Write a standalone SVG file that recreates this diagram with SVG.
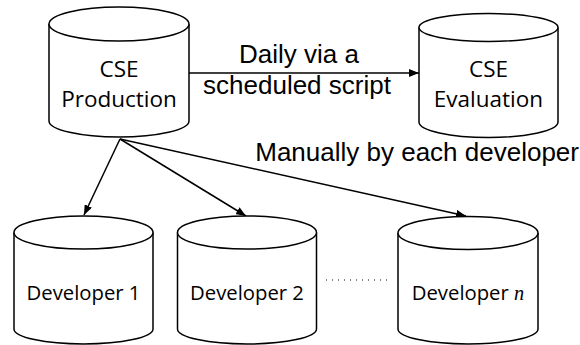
<svg xmlns="http://www.w3.org/2000/svg" width="580" height="345" viewBox="0 0 580 345">
<defs>
<marker id="ah" viewBox="0 0 10 8" refX="10" refY="4" markerWidth="10" markerHeight="8" markerUnits="userSpaceOnUse" orient="auto">
<path d="M0,0 L10,4 L0,8 Z" fill="#000"/>
</marker>
</defs>
<style>
.cyl{fill:#fff;stroke:#000;stroke-width:1.5}
.nt{font-family:"Open Sans","Liberation Sans",sans-serif;font-size:22.5px;fill:#000;text-anchor:middle}
.dt{font-family:"Open Sans","Liberation Sans",sans-serif;font-size:20.3px;fill:#000;text-anchor:middle}
.lb{font-family:"Liberation Sans",Arial,sans-serif;font-size:26px;fill:#000}
.ed{stroke:#000;stroke-width:1.5;fill:none;marker-end:url(#ah)}
</style>
<g id="connectors">
<line class="ed" x1="189" y1="73" x2="419" y2="73"/>
<line class="ed" x1="120" y1="139" x2="84" y2="215"/>
<line class="ed" x1="120" y1="139" x2="246" y2="216"/>
<line class="ed" x1="120" y1="139" x2="466" y2="216"/>
<text class="lb" x="299" y="63" text-anchor="middle">Daily via a</text>
<text class="lb" x="297" y="94" text-anchor="middle">scheduled script</text>
<text class="lb" x="579" y="161" text-anchor="end">Manually by each developer</text>
<line x1="326" y1="280" x2="387" y2="280" stroke="#000" stroke-width="1" stroke-dasharray="1,5"/>
</g>
<g id="cse-production">
<path class="cyl" d="M49,24 L49,121 A70,16 0 0 0 189,121 L189,24"/>
<ellipse class="cyl" cx="119" cy="24" rx="70" ry="17"/>
<text class="nt" x="119" y="77">CSE</text>
<text class="nt" x="119" y="107">Production</text>
</g>
<g id="cse-evaluation">
<path class="cyl" d="M419,27.5 L419,122 A69.5,15.5 0 0 0 558,122 L558,27.5"/>
<ellipse class="cyl" cx="488.5" cy="27.5" rx="69.5" ry="14"/>
<text class="nt" x="488.5" y="77">CSE</text>
<text class="nt" x="488.5" y="107">Evaluation</text>
</g>
<g id="developer-1">
<path class="cyl" d="M14,232.5 L14,329 A69.5,15 0 0 0 153,329 L153,232.5"/>
<ellipse class="cyl" cx="83.5" cy="232.5" rx="69.5" ry="16.5"/>
<text class="dt" x="83.5" y="300">Developer 1</text>
</g>
<g id="developer-2">
<path class="cyl" d="M177.5,232.5 L177.5,329 A69.5,15 0 0 0 316.5,329 L316.5,232.5"/>
<ellipse class="cyl" cx="247" cy="232.5" rx="69.5" ry="16.5"/>
<text class="dt" x="247" y="300">Developer 2</text>
</g>
<g id="developer-n">
<path class="cyl" d="M398,233 L398,329 A70,15 0 0 0 538,329 L538,233"/>
<ellipse class="cyl" cx="468" cy="233" rx="70" ry="16.5"/>
<text class="dt" x="468" y="300">Developer <tspan font-family="'Liberation Serif',serif" font-style="italic">n</tspan></text>
</g>
</svg>
